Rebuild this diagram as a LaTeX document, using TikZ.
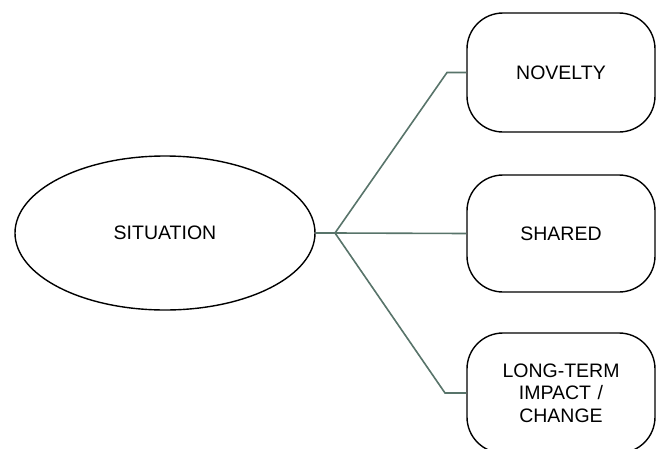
\documentclass[tikz,border=0pt]{standalone}
\usepackage{fontspec}
\setmainfont{Liberation Sans}
\usetikzlibrary{shapes.geometric, positioning}

\definecolor{linkgray}{RGB}{88,116,106}

\begin{document}
\begin{tikzpicture}[x=1pt, y=-1pt]
\tikzstyle{situ} = [ellipse, minimum width=300pt, minimum height=154pt, text centered, draw=black, line width=1.4pt, font=\fontsize{19.5}{23}\selectfont]
\tikzstyle{card} = [rectangle, rounded corners=36pt, minimum width=188pt, text width=170pt, align=center, draw=black, line width=1.4pt, font=\fontsize{19.5}{22.5}\selectfont]
\tikzstyle{link} = [draw=linkgray, line width=1.6pt]

\useasboundingbox (0,0) rectangle (657,448);

\node (situation) [situ] at (165,233) {SITUATION};
\node (novelty) [card, minimum height=119pt] at (561,72.5) {NOVELTY};
\node (shared) [card, minimum height=117pt] at (561,233.5) {SHARED};
\node (impact) [card, minimum height=120pt] at (561,393) {LONG-TERM\\IMPACT /\\CHANGE};

\coordinate (hub) at (335,233);
\coordinate (bendtop) at (447,72.5);
\coordinate (bendbot) at (445,393);

\path [link] (situation.east) -- (hub) -- (shared.west);
\path [link] (hub) -- (bendtop) -- (novelty.west);
\path [link] (hub) -- (bendbot) -- (impact.west);

\end{tikzpicture}
\end{document}
